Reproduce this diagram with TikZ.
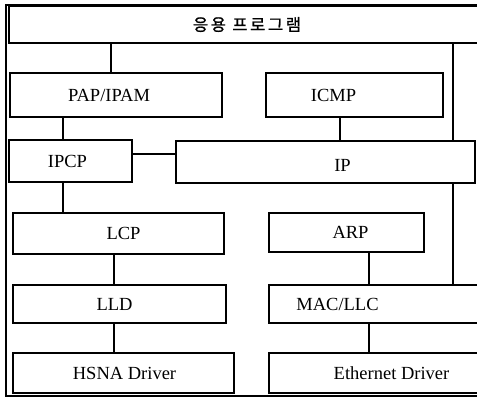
\documentclass[tikz,border=0pt]{standalone}
\usepackage{fontspec}
\setmainfont{Liberation Serif}
\newfontfamily\krfont[LetterSpace=16,FakeBold=1.2]{Noto Sans CJK KR}
\begin{document}
\begin{tikzpicture}[x=1pt,y=-1pt,
  box/.style={draw, line width=1.1pt, inner sep=0pt},
  tx/.style={font=\fontsize{18.5}{21}\selectfont},
  conn/.style={line width=1.1pt}]
\useasboundingbox (0,0) rectangle (477,398);
% outer frame
\draw[line width=1.1pt] (480,5) -- (6,5) -- (6,396) -- (480,396);
% boxes
\node[box, minimum width=473pt, minimum height=37pt,
  label={[xshift=1.5pt,font=\krfont\fontsize{16.5}{19}\selectfont]center:응용 프로그램}] (app) at (245.5,24.5) {};
\node[box, minimum width=212pt, minimum height=44pt, label={[tx,xshift=-7pt]center:PAP/IPAM}] (pap) at (116,95) {};
\node[box, minimum width=177pt, minimum height=44pt, label={[tx,xshift=-21pt]center:ICMP}] (icmp) at (354.5,95) {};
\node[box, minimum width=123pt, minimum height=42pt, label={[tx,xshift=-3pt]center:IPCP}] (ipcp) at (70.5,161) {};
\node[box, minimum width=299pt, minimum height=42pt, label={[tx,xshift=17pt,yshift=-3pt]center:IP}] (ip) at (325.5,162) {};
\node[box, minimum width=211pt, minimum height=41pt, label={[tx,xshift=5pt]center:LCP}] (lcp) at (118.5,233.5) {};
\node[box, minimum width=155pt, minimum height=39pt, label={[tx,xshift=4pt]center:ARP}] (arp) at (346.5,232.5) {};
\node[box, minimum width=213pt, minimum height=38pt, label={[tx,xshift=-5pt]center:LLD}] (lld) at (119.5,304) {};
\node[box, minimum width=213pt, minimum height=38pt, label={[tx,xshift=-38pt]center:MAC/LLC}] (mac) at (375.5,304) {};
\node[box, minimum width=221pt, minimum height=40pt, label={[tx,xshift=1pt]center:HSNA Driver}] (hsna) at (123.5,373) {};
\node[box, minimum width=213pt, minimum height=40pt, label={[tx,xshift=16pt]center:Ethernet Driver}] (eth) at (375.5,373) {};
% connectors
\coordinate (c1) at ([xshift=-5pt]pap.north);
\draw[conn] (c1 |- app.south) -- (c1);
\coordinate (c2) at ([xshift=-7.5pt]ipcp.north);
\draw[conn] (c2 |- pap.south) -- (c2);
\coordinate (c3) at ([xshift=-14.5pt]icmp.south);
\draw[conn] (c3) -- (c3 |- ip.north);
\coordinate (c4) at ([yshift=7pt]ipcp.east);
\draw[conn] (c4) -- (c4 -| ip.west);
\coordinate (c5) at ([xshift=-7.5pt]ipcp.south);
\draw[conn] (c5) -- (c5 |- lcp.north);
\coordinate (c6) at ([xshift=-4.5pt]lcp.south);
\draw[conn] (c6) -- (c6 |- lld.north);
\coordinate (c7) at ([xshift=-5.5pt]lld.south);
\draw[conn] (c7) -- (c7 |- hsna.north);
\coordinate (c8) at ([xshift=22.5pt]arp.south);
\draw[conn] (c8) -- (c8 |- mac.north);
\coordinate (c9) at ([xshift=-6.5pt]mac.south);
\draw[conn] (c9) -- (c9 |- eth.north);
\coordinate (c10) at ([xshift=127.5pt]ip.north);
\draw[conn] (c10 |- app.south) -- (c10);
\coordinate (c11) at ([xshift=127.5pt]ip.south);
\draw[conn] (c11) -- (c11 |- mac.north);
\end{tikzpicture}
\end{document}
